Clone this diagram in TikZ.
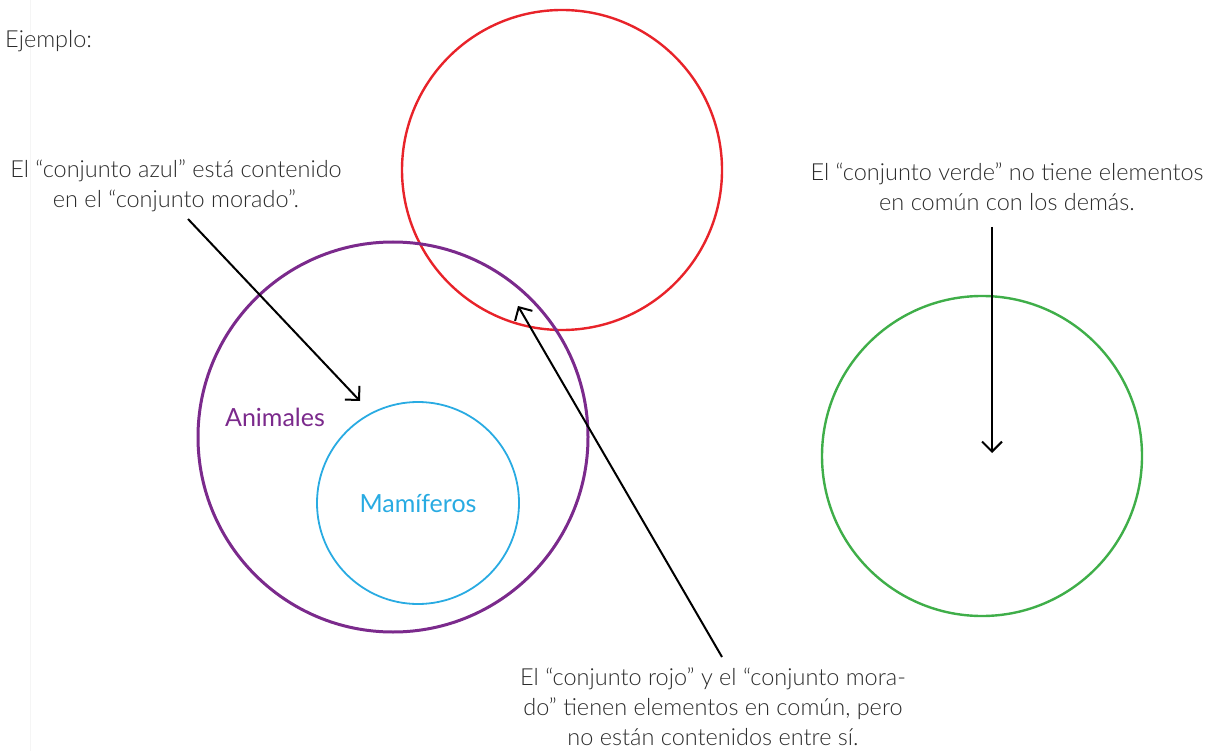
\documentclass[tikz,border=0pt]{standalone}
\usepackage{fontspec}
\setmainfont{Lato}[UprightFont=* Light]
\usetikzlibrary{arrows.meta}
\definecolor{txt}{HTML}{2B2B2B}
\definecolor{cred}{HTML}{E8232A}
\definecolor{cpur}{HTML}{7B2A8C}
\definecolor{cblu}{HTML}{29ABE2}
\definecolor{cgrn}{HTML}{3FAE49}
\tikzset{
  setc/.style={draw=#1, circle, inner sep=0pt, line width=2.4pt},
  lbl/.style={text=txt, font=\fontsize{23.5}{30}\selectfont, align=center, inner sep=0pt},
  setname/.style={text=#1, font=\fontsize{25}{28}\selectfont\fontspec{Lato}, anchor=base},
  pointer/.style={draw=black, line width=2pt, -{Straight Barb[length=10pt,width=20pt]}},
}
\begin{document}
\begin{tikzpicture}[x=1pt,y=-1pt]
\useasboundingbox (0,0) rectangle (1209,751);
\draw[black!4, line width=1pt] (30,0) -- (30,751);
\node[setc=cred, minimum size=320pt] (red) at (562,170) {};
\node[setc=cpur, line width=3pt, minimum size=390pt] (purple) at (393,437) {};
\node[setc=cblu, line width=1.8pt, minimum size=202pt] (blue) at (418,503) {};
\node[setc=cgrn, minimum size=320pt] (green) at (982,456) {};
\node[setname=cpur] (anim) at (275,426) {Animales};
\node[setname=cblu] (mam) at (418,512) {Mamíferos};
\node[lbl, anchor=base west] (ej) at (5,48) {Ejemplo:};
\node[lbl, anchor=base] (t1) at (176,208) {El “conjunto azul” está contenido\\en el “conjunto morado”.};
\node[lbl, anchor=base] (t2) at (1007,211) {El “conjunto verde” no tiene elementos\\en común con los demás.};
\node[lbl, anchor=base] (t3) at (713,745) {El “conjunto rojo” y el “conjunto mora-\\do” tienen elementos en común, pero\\no están contenidos entre sí.};
\coordinate (a1s) at (188,219);
\coordinate (a1e) at (360,401);
\coordinate (a2s) at (722,657);
\coordinate (a2e) at (518,306);
\coordinate (a3s) at (992,227);
\coordinate (a3e) at (992,453);
\draw[pointer] (a1s) -- (a1e);
\draw[pointer] (a2s) -- (a2e);
\draw[pointer] (a3s) -- (a3e);
\end{tikzpicture}
\end{document}
